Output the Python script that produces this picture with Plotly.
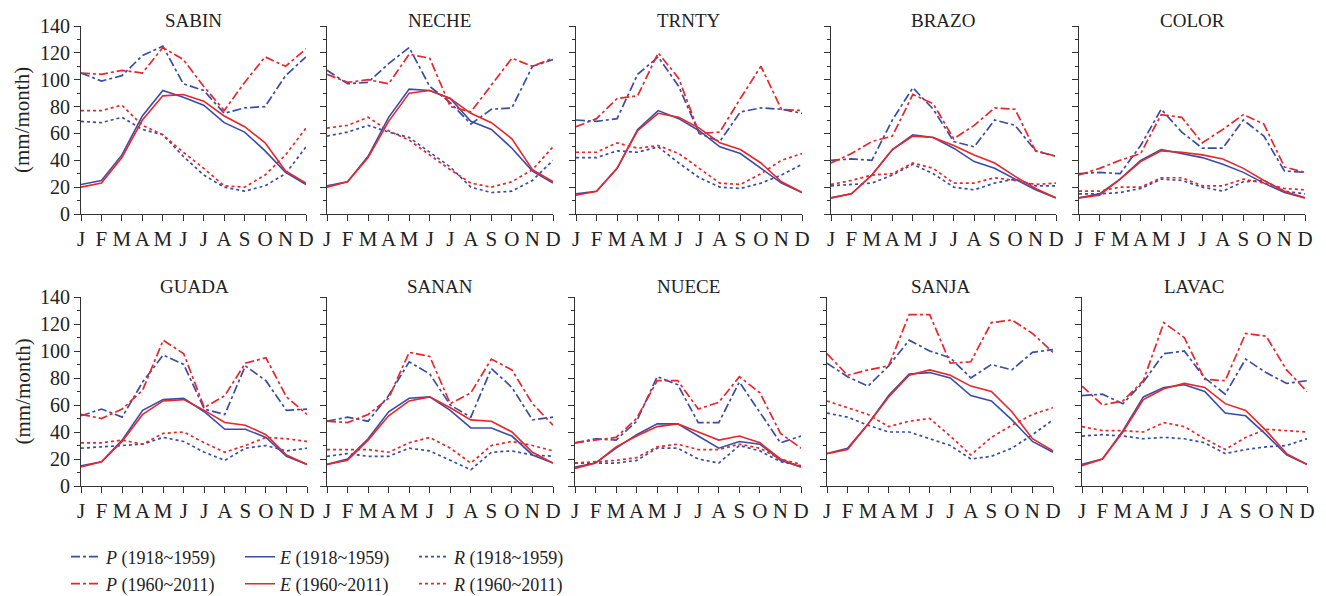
import plotly.graph_objects as go

months = ["J", "F", "M", "A", "M", "J", "J", "A", "S", "O", "N", "D"]
month_idx = list(range(1, 13))
basins = ["SABIN", "NECHE", "TRNTY", "BRAZO", "COLOR", "GUADA", "SANAN", "NUECE", "SANJA", "LAVAC"]

# P = precipitation, E = evapotranspiration, R = runoff ; _a = 1918~1959, _b = 1960~2011
P_a = {
    "SABIN": [105, 99, 103, 118, 125, 97, 92, 75, 79, 80, 103, 117],
    "NECHE": [107, 97, 98, 112, 124, 95, 83, 67, 78, 79, 110, 115],
    "TRNTY": [70, 69, 71, 104, 117, 95, 60, 54, 76, 79, 78, 75],
    "BRAZO": [40, 41, 40, 70, 94, 78, 54, 50, 70, 66, 47, 43],
    "COLOR": [30, 31, 30, 51, 78, 61, 49, 49, 70, 58, 32, 31],
    "GUADA": [52, 57, 51, 77, 97, 90, 57, 53, 89, 78, 56, 57],
    "SANAN": [48, 51, 48, 67, 92, 83, 60, 51, 87, 73, 49, 51],
    "NUECE": [32, 35, 34, 48, 81, 75, 47, 47, 77, 54, 32, 37],
    "SANJA": [91, 81, 74, 89, 108, 100, 95, 80, 90, 86, 99, 101],
    "LAVAC": [67, 68, 61, 77, 98, 100, 80, 68, 94, 84, 76, 78],
}
P_b = {
    "SABIN": [105, 104, 107, 105, 124, 115, 95, 77, 98, 117, 110, 123],
    "NECHE": [104, 98, 100, 97, 119, 116, 80, 76, 96, 116, 110, 116],
    "TRNTY": [65, 71, 86, 88, 120, 101, 60, 61, 86, 110, 78, 77],
    "BRAZO": [38, 45, 54, 58, 89, 82, 56, 66, 79, 78, 47, 43],
    "COLOR": [29, 34, 40, 45, 74, 72, 53, 63, 74, 67, 35, 31],
    "GUADA": [53, 50, 57, 71, 108, 98, 58, 67, 91, 95, 66, 53],
    "SANAN": [48, 47, 53, 65, 99, 96, 61, 69, 94, 86, 61, 45],
    "NUECE": [32, 34, 36, 50, 78, 78, 57, 62, 81, 69, 39, 28],
    "SANJA": [98, 82, 86, 89, 127, 127, 91, 92, 121, 123, 113, 99],
    "LAVAC": [74, 60, 63, 78, 121, 110, 79, 78, 113, 111, 86, 70],
}
E_a = {
    "SABIN": [22, 25, 44, 73, 92, 87, 81, 68, 61, 47, 31, 22],
    "NECHE": [21, 24, 43, 72, 93, 92, 86, 69, 63, 49, 32, 23],
    "TRNTY": [15, 17, 34, 63, 77, 71, 62, 50, 45, 34, 23, 16],
    "BRAZO": [12, 15, 29, 48, 59, 57, 49, 39, 34, 26, 18, 12],
    "COLOR": [12, 15, 26, 40, 48, 45, 42, 37, 31, 23, 16, 12],
    "GUADA": [15, 18, 34, 56, 64, 65, 55, 42, 42, 36, 22, 16],
    "SANAN": [16, 20, 35, 55, 65, 66, 56, 43, 43, 37, 23, 17],
    "NUECE": [14, 17, 28, 38, 46, 46, 37, 28, 33, 31, 19, 14],
    "SANJA": [24, 28, 46, 67, 83, 84, 80, 67, 63, 49, 33, 25],
    "LAVAC": [16, 20, 41, 66, 73, 75, 70, 54, 52, 38, 23, 16],
}
E_b = {
    "SABIN": [20, 23, 42, 70, 88, 89, 84, 73, 65, 53, 32, 23],
    "NECHE": [20, 24, 42, 69, 90, 92, 86, 75, 68, 56, 33, 24],
    "TRNTY": [14, 17, 34, 62, 75, 72, 64, 53, 48, 38, 24, 16],
    "BRAZO": [12, 15, 29, 48, 58, 57, 51, 44, 38, 28, 19, 12],
    "COLOR": [12, 14, 26, 39, 47, 46, 44, 41, 34, 25, 17, 12],
    "GUADA": [14, 18, 33, 53, 63, 64, 56, 47, 45, 38, 23, 16],
    "SANAN": [16, 19, 34, 52, 63, 66, 58, 49, 48, 40, 25, 17],
    "NUECE": [13, 17, 29, 37, 44, 46, 40, 34, 37, 32, 20, 14],
    "SANJA": [24, 27, 46, 66, 82, 86, 82, 74, 70, 55, 35, 26],
    "LAVAC": [15, 20, 40, 64, 72, 76, 73, 61, 56, 41, 24, 16],
}
R_a = {
    "SABIN": [69, 68, 72, 63, 59, 43, 29, 20, 17, 21, 30, 50],
    "NECHE": [58, 61, 66, 61, 57, 46, 35, 20, 16, 17, 25, 40],
    "TRNTY": [42, 42, 47, 46, 50, 38, 27, 20, 19, 23, 29, 37],
    "BRAZO": [21, 22, 23, 29, 37, 30, 20, 18, 23, 26, 21, 21],
    "COLOR": [15, 15, 16, 19, 26, 25, 20, 17, 24, 25, 17, 15],
    "GUADA": [28, 29, 30, 31, 36, 33, 25, 19, 28, 30, 26, 28],
    "SANAN": [22, 24, 22, 22, 28, 26, 19, 12, 25, 26, 23, 22],
    "NUECE": [17, 17, 17, 19, 28, 28, 20, 17, 30, 26, 18, 15],
    "SANJA": [54, 51, 45, 40, 40, 35, 30, 20, 22, 28, 38, 49],
    "LAVAC": [37, 38, 37, 35, 36, 35, 32, 24, 27, 29, 30, 35],
}
R_b = {
    "SABIN": [77, 77, 81, 66, 59, 46, 34, 21, 20, 29, 44, 64],
    "NECHE": [64, 66, 72, 62, 55, 44, 33, 23, 20, 24, 33, 50],
    "TRNTY": [46, 46, 53, 49, 51, 45, 34, 23, 22, 30, 40, 45],
    "BRAZO": [22, 25, 29, 30, 38, 34, 23, 23, 27, 25, 22, 23],
    "COLOR": [17, 17, 20, 20, 27, 27, 21, 21, 26, 23, 19, 18],
    "GUADA": [32, 32, 34, 31, 39, 40, 32, 25, 30, 36, 35, 33],
    "SANAN": [27, 27, 27, 25, 32, 36, 28, 17, 30, 33, 30, 26],
    "NUECE": [17, 18, 19, 21, 29, 31, 27, 27, 31, 28, 20, 16],
    "SANJA": [63, 58, 53, 44, 48, 50, 37, 23, 36, 45, 53, 58],
    "LAVAC": [44, 41, 41, 40, 47, 44, 35, 27, 36, 42, 41, 40],
}

BLUE = "#3a4da6"
RED = "#e8262b"
FONT = "Liberation Serif"
OFF = 8  # page body margin
W, H = 1326 - OFF, 596 - OFF


def px(x):
    return (x - OFF) / W


def py(y):
    return 1 - (y - OFF) / H


# panel pixel geometry in the target picture: (left, right) per column; (top, bottom) per row
cols_px = [[(81, 306), (327, 553), (576, 802), (831, 1056), (1079, 1305)],
           [(81, 307), (327, 553), (575, 801), (827, 1053), (1082, 1307)]]
rows_px = [(26, 214), (297, 486)]
title_y = [20, 286]

fig = go.Figure()

series = [
    ("P", P_a, BLUE, "dashdot", "1918~1959", "legend"),
    ("E", E_a, BLUE, "solid", "1918~1959", "legend"),
    ("R", R_a, BLUE, "dot", "1918~1959", "legend"),
    ("P", P_b, RED, "dashdot", "1960~2011", "legend2"),
    ("E", E_b, RED, "solid", "1960~2011", "legend2"),
    ("R", R_b, RED, "dot", "1960~2011", "legend2"),
]

annotations = []
for i, b in enumerate(basins):
    r, c = divmod(i, 5)
    n = i + 1
    xa = "x" if n == 1 else f"x{n}"
    ya = "y" if n == 1 else f"y{n}"
    for (var, d, color, dash, period, lg) in series:
        fig.add_trace(go.Scatter(
            x=month_idx, y=d[b], mode="lines", xaxis=xa, yaxis=ya,
            line=dict(color=color, dash=dash, width=1.6 if dash == "solid" else 1.7),
            name=f"<i>{var}</i> ({period})", legend=lg,
            showlegend=(i == 0), hoverinfo="skip",
        ))
    l, rr = cols_px[r][c]
    t, bt = rows_px[r]
    xd = [px(l), px(rr)]
    yd = [py(bt), py(t)]
    axis_common = dict(showline=True, linecolor="#333", linewidth=1.2,
                       showgrid=False, zeroline=False, ticks="outside", automargin=False,
                       tickcolor="#333")
    fig.layout[f"xaxis{'' if n == 1 else n}"] = dict(
        domain=xd, range=[1, 12], anchor=ya,
        tickmode="array", tickvals=month_idx, ticktext=months,
        ticklen=6, tickfont=dict(family=FONT, size=21, color="#222"), **axis_common)
    fig.layout[f"yaxis{'' if n == 1 else n}"] = dict(
        domain=yd, range=[0, 140], anchor=xa,
        tickmode="array", tickvals=[0, 20, 40, 60, 80, 100, 120, 140],
        showticklabels=(c == 0), ticklen=6,
        tickfont=dict(family=FONT, size=20, color="#222"),
        minor=dict(tickvals=[10, 30, 50, 70, 90, 110, 130], ticks="outside", ticklen=3, tickcolor="#333"),
        **axis_common)
    annotations.append(dict(
        x=(xd[0] + xd[1]) / 2, y=py(title_y[r]), xref="paper", yref="paper",
        text=b, showarrow=False, xanchor="center", yanchor="middle",
        font=dict(family=FONT, size=19, color="#222")))

for t, bt in rows_px:
    annotations.append(dict(
        x=px(22), y=py((t + bt) / 2), xref="paper", yref="paper",
        text="(mm/month)", showarrow=False, textangle=-90,
        xanchor="center", yanchor="middle",
        font=dict(family=FONT, size=21, color="#222")))

legend_common = dict(orientation="h", xanchor="left", yanchor="middle",
                     entrywidth=129, entrywidthmode="pixels", itemwidth=30,
                     font=dict(family=FONT, size=18, color="#222"),
                     bgcolor="rgba(0,0,0,0)")

fig.update_layout(
    template="none",
    width=W, height=H,
    margin=dict(l=0, r=0, t=0, b=0, autoexpand=False),
    paper_bgcolor="white", plot_bgcolor="white",
    annotations=annotations,
    showlegend=True,
    legend=dict(x=px(66), y=py(557), **legend_common),
    legend2=dict(x=px(66), y=py(584), **legend_common),
)

fig.write_html("out.html")
